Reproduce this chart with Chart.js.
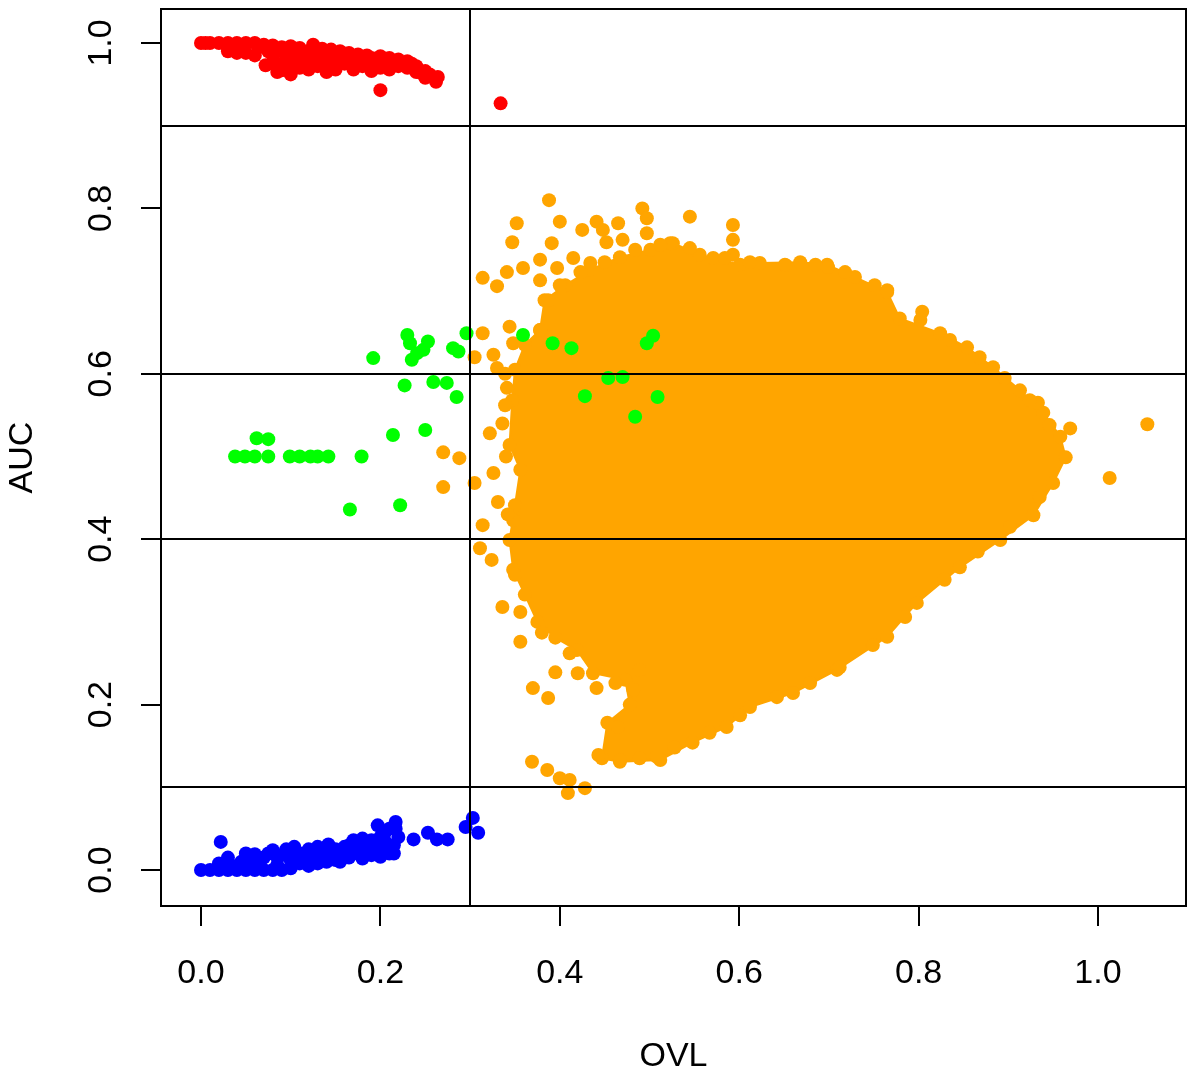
<!DOCTYPE html>
<html>
<head>
<meta charset="utf-8">
<script src="https://cdn.jsdelivr.net/npm/chart.js@4.4.1/dist/chart.umd.min.js"></script>
<style>
  html, body { margin: 0; padding: 0; background: #fff; }
</style>
</head>
<body>
<canvas id="myChart" width="1200" height="1078"></canvas>
<script>
// axis ticks and cut-off lines
const xTicks = [0, 0.2, 0.4, 0.6, 0.8, 1.0];
const yTicks = [0, 0.2, 0.4, 0.6, 0.8, 1.0];
const cutX = [0.3];
const cutY = [0.1, 0.4, 0.6, 0.9];

// AUC close to 1 (red)
const redPts = [
  [0, 1], [0.005, 1], [0.01, 1], [0.02, 1], [0.03, 1], [0.04, 1], [0.05, 1], [0.06, 1],
  [0.07, 0.998], [0.08, 0.997], [0.09, 0.995], [0.1, 0.996], [0.11, 0.994], [0.125, 0.998],
  [0.135, 0.993], [0.145, 0.992], [0.155, 0.99], [0.165, 0.988], [0.175, 0.986], [0.185, 0.985],
  [0.2, 0.984], [0.21, 0.982], [0.22, 0.98], [0.23, 0.978], [0.24, 0.972], [0.25, 0.966],
  [0.03, 0.99], [0.04, 0.988], [0.05, 0.988], [0.06, 0.985], [0.072, 0.973], [0.08, 0.975],
  [0.09, 0.967], [0.1, 0.962], [0.11, 0.97], [0.12, 0.98], [0.13, 0.972], [0.14, 0.965],
  [0.15, 0.968], [0.16, 0.975], [0.17, 0.968], [0.18, 0.972], [0.19, 0.966], [0.2, 0.97],
  [0.21, 0.968], [0.22, 0.972], [0.245, 0.964], [0.262, 0.953], [0.264, 0.959], [0.2, 0.943],
  [0.334, 0.927], [0.085, 0.99], [0.095, 0.985], [0.105, 0.98], [0.115, 0.985], [0.125, 0.985],
  [0.135, 0.98], [0.145, 0.978], [0.155, 0.98], [0.165, 0.978], [0.175, 0.975], [0.185, 0.978],
  [0.195, 0.976], [0.045, 0.993], [0.1, 0.985], [0.11, 0.98], [0.12, 0.99], [0.13, 0.99],
  [0.14, 0.985], [0.15, 0.985], [0.16, 0.985], [0.17, 0.98], [0.18, 0.98], [0.19, 0.982],
  [0.2, 0.978], [0.21, 0.975], [0.22, 0.975], [0.23, 0.97], [0.235, 0.975], [0.09, 0.975],
  [0.08, 0.985], [0.075, 0.99], [0.065, 0.995], [0.1, 0.972], [0.12, 0.968], [0.085, 0.965],
  [0.095, 0.972], [0.14, 0.975], [0.17, 0.972], [0.25, 0.958], [0.255, 0.962], [0.24, 0.965]
];

// AUC close to 0 (blue)
const bluePts = [
  [0, 0], [0.01, 0], [0.02, 0], [0.03, 0], [0.04, 0], [0.05, 0], [0.06, 0], [0.07, 0],
  [0.08, 0], [0.09, 0], [0.1, 0.002], [0.022, 0.034], [0.05, 0.02], [0.06, 0.019], [0.045, 0.01],
  [0.07, 0.015], [0.08, 0.024], [0.09, 0.018], [0.104, 0.028], [0.11, 0.02], [0.12, 0.025],
  [0.125, 0.012], [0.13, 0.028], [0.14, 0.02], [0.142, 0.031], [0.15, 0.012], [0.16, 0.028],
  [0.17, 0.036], [0.175, 0.02], [0.18, 0.014], [0.19, 0.036], [0.195, 0.025], [0.197, 0.054],
  [0.2, 0.016], [0.205, 0.035], [0.21, 0.028], [0.215, 0.02], [0.217, 0.058], [0.217, 0.05],
  [0.22, 0.04], [0.11, 0.008], [0.13, 0.008], [0.155, 0.01], [0.06, 0.008], [0.085, 0.006],
  [0.237, 0.037], [0.253, 0.045], [0.263, 0.037], [0.275, 0.037], [0.303, 0.063],
  [0.295, 0.052], [0.309, 0.045], [0.03, 0.015], [0.12, 0.005], [0.145, 0.018], [0.165, 0.015],
  [0.02, 0.008], [0.035, 0.005], [0.05, 0.012], [0.065, 0.01], [0.075, 0.02], [0.085, 0.015],
  [0.095, 0.025], [0.1, 0.012], [0.115, 0.015], [0.135, 0.018], [0.14, 0.01], [0.15, 0.025],
  [0.16, 0.018], [0.165, 0.03], [0.17, 0.022], [0.185, 0.025], [0.185, 0.03], [0.19, 0.018],
  [0.2, 0.03], [0.21, 0.02], [0.205, 0.045], [0.21, 0.05], [0.2, 0.04], [0.215, 0.03],
  [0.14, 0.028], [0.12, 0.018], [0.1, 0.022], [0.13, 0.02], [0.155, 0.022], [0.175, 0.03],
  [0.18, 0.038]
];

// intermediate group (green)
const greenPts = [
  [0.038, 0.5], [0.049, 0.5], [0.06, 0.5], [0.062, 0.522], [0.075, 0.521], [0.075, 0.5],
  [0.099, 0.5], [0.11, 0.5], [0.122, 0.5], [0.13, 0.5], [0.142, 0.5], [0.179, 0.5],
  [0.166, 0.436], [0.222, 0.441], [0.214, 0.526], [0.25, 0.532], [0.192, 0.619],
  [0.23, 0.647], [0.233, 0.637], [0.253, 0.639], [0.241, 0.625], [0.235, 0.617], [0.248, 0.629],
  [0.281, 0.631], [0.287, 0.627], [0.296, 0.649], [0.227, 0.586], [0.259, 0.59], [0.274, 0.589],
  [0.285, 0.572], [0.359, 0.647], [0.392, 0.637], [0.413, 0.631], [0.497, 0.637], [0.504, 0.646],
  [0.454, 0.595], [0.47, 0.596], [0.428, 0.573], [0.509, 0.572], [0.484, 0.548]
];

// bulk of the markers (orange): outline of the dense cloud ...
const orangeCloud = [
  [0.378, 0.653], [0.383, 0.689], [0.406, 0.707], [0.434, 0.726], [0.467, 0.741], [0.501, 0.75],
  [0.526, 0.758], [0.556, 0.744], [0.571, 0.74], [0.601, 0.732], [0.623, 0.734], [0.668, 0.735],
  [0.698, 0.732], [0.729, 0.717], [0.765, 0.699], [0.779, 0.667], [0.824, 0.649], [0.854, 0.632],
  [0.883, 0.608], [0.913, 0.58], [0.939, 0.553], [0.958, 0.524], [0.964, 0.499], [0.95, 0.468],
  [0.928, 0.429], [0.891, 0.399], [0.846, 0.366], [0.798, 0.323], [0.765, 0.282], [0.709, 0.242],
  [0.66, 0.214], [0.612, 0.197], [0.586, 0.173], [0.548, 0.154], [0.512, 0.133], [0.467, 0.131],
  [0.447, 0.135], [0.453, 0.178], [0.478, 0.2], [0.473, 0.23], [0.437, 0.238], [0.419, 0.266],
  [0.395, 0.281], [0.375, 0.3], [0.361, 0.333], [0.348, 0.363], [0.344, 0.399], [0.35, 0.441],
  [0.356, 0.484], [0.344, 0.514], [0.347, 0.568], [0.35, 0.605], [0.361, 0.635], [0.378, 0.653]
];

// ... and the scattered orange markers around and along it
const orangePts = [
  [0.388, 0.81], [0.352, 0.782], [0.347, 0.759], [0.4, 0.784], [0.391, 0.758], [0.425, 0.774],
  [0.441, 0.784], [0.448, 0.774], [0.465, 0.782], [0.492, 0.8], [0.497, 0.788], [0.497, 0.77],
  [0.452, 0.759], [0.47, 0.762], [0.545, 0.79], [0.593, 0.78], [0.593, 0.762], [0.523, 0.758],
  [0.378, 0.738], [0.397, 0.728], [0.415, 0.74], [0.434, 0.734], [0.359, 0.728], [0.341, 0.723],
  [0.314, 0.716], [0.33, 0.706], [0.378, 0.713], [0.314, 0.649], [0.305, 0.62], [0.326, 0.623],
  [0.33, 0.607], [0.344, 0.657], [0.348, 0.637], [0.341, 0.583], [0.339, 0.562], [0.322, 0.528],
  [0.27, 0.505], [0.288, 0.498], [0.27, 0.463], [0.305, 0.468], [0.331, 0.445], [0.314, 0.417],
  [0.326, 0.48], [0.348, 0.423], [0.311, 0.389], [0.324, 0.375], [0.35, 0.357], [0.336, 0.318],
  [0.356, 0.312], [0.356, 0.276], [0.38, 0.287], [0.395, 0.239], [0.37, 0.22], [0.387, 0.208],
  [0.42, 0.238], [0.411, 0.262], [0.441, 0.22], [0.462, 0.226], [0.482, 0.218], [0.489, 0.242],
  [0.465, 0.173], [0.443, 0.139], [0.467, 0.133], [0.369, 0.131], [0.386, 0.121], [0.4, 0.111],
  [0.411, 0.109], [0.409, 0.093], [0.428, 0.099], [0.508, 0.137], [1.055, 0.539], [0.969, 0.534],
  [1.013, 0.474], [0.933, 0.565], [0.804, 0.675], [0.765, 0.701], [0.593, 0.744], [0.652, 0.731],
  [0.699, 0.729], [0.339, 0.6], [0.336, 0.54], [0.34, 0.5], [0.342, 0.43],
  [0.935, 0.451], [0.902, 0.415], [0.866, 0.385], [0.829, 0.351], [0.785, 0.306], [0.749, 0.272],
  [0.712, 0.245], [0.679, 0.226], [0.642, 0.209], [0.601, 0.187], [0.567, 0.166], [0.528, 0.148],
  [0.489, 0.135], [0.946, 0.538], [0.924, 0.568], [0.896, 0.595], [0.868, 0.62], [0.835, 0.641],
  [0.802, 0.665], [0.751, 0.707], [0.718, 0.723], [0.685, 0.732], [0.651, 0.732], [0.612, 0.735],
  [0.584, 0.74], [0.545, 0.752], [0.512, 0.756], [0.484, 0.75], [0.45, 0.735], [0.423, 0.723],
  [0.4, 0.707], [0.387, 0.689]
];

const toXY = (pts) => pts.map(([x, y]) => ({ x: x, y: y }));

const FONT = '"Liberation Sans", Arial, sans-serif';

const dot = (data, color) => ({
  data: toXY(data),
  backgroundColor: color,
  borderWidth: 0,
  pointRadius: 7,
  pointHoverRadius: 7,
});

// keep the plot box where the reference has it: no extra room for edge labels
const noPad = (s) => {
  s.paddingTop = 0;
  s.paddingBottom = 0;
  s.paddingLeft = 0;
  s.paddingRight = 0;
};

// box round the plot and the cut-off lines, drawn over the markers
const guides = {
  id: 'guides',
  afterDatasetsDraw(chart) {
    const { ctx, chartArea: a, scales: { x, y } } = chart;
    ctx.save();
    ctx.strokeStyle = '#000';
    ctx.lineWidth = 2;
    ctx.beginPath();
    cutY.forEach((v) => {
      const py = Math.round(y.getPixelForValue(v));
      ctx.moveTo(a.left, py);
      ctx.lineTo(a.right, py);
    });
    cutX.forEach((v) => {
      const px = Math.round(x.getPixelForValue(v));
      ctx.moveTo(px, a.top);
      ctx.lineTo(px, a.bottom);
    });
    ctx.stroke();
    ctx.strokeRect(a.left, a.top, a.right - a.left, a.bottom - a.top);
    ctx.restore();
  },
};

new Chart(document.getElementById('myChart'), {
  type: 'scatter',
  data: {
    datasets: [
      dot(greenPts, '#00FF00'),
      dot(redPts, '#FF0000'),
      dot(bluePts, '#0000FF'),
      dot(orangePts, '#FFA500'),
      {
        type: 'line',
        data: toXY(orangeCloud),
        showLine: true,
        fill: 'shape',
        tension: 0,
        backgroundColor: '#FFA500',
        borderColor: '#FFA500',
        borderWidth: 2,
        pointBackgroundColor: '#FFA500',
        pointBorderWidth: 0,
        pointRadius: 7,
      },
    ],
  },
  options: {
    responsive: false,
    animation: false,
    events: [],
    layout: { padding: { top: 9, right: 14, left: 0, bottom: 0 } },
    plugins: {
      legend: { display: false },
      tooltip: { enabled: false },
    },
    scales: {
      x: {
        type: 'linear',
        min: -0.0446,
        max: 1.0981,
        afterBuildTicks: (s) => { s.ticks = xTicks.map((v) => ({ value: v })); },
        afterFit: (s) => { s.height = 172; noPad(s); },
        border: { display: false },
        grid: { drawOnChartArea: false, drawTicks: true, tickLength: 20, color: '#000', lineWidth: 2 },
        ticks: {
          padding: 27,
          color: '#000',
          font: { family: FONT, size: 34 },
          callback: (v) => Number(v).toFixed(1),
        },
        title: {
          display: true,
          text: 'OVL',
          color: '#000',
          font: { family: FONT, size: 34 },
          padding: { top: 0, bottom: 1 },
        },
      },
      y: {
        type: 'linear',
        min: -0.0435,
        max: 1.0411,
        afterBuildTicks: (s) => { s.ticks = yTicks.map((v) => ({ value: v })); },
        afterFit: (s) => { s.width = 161; noPad(s); },
        border: { display: false },
        grid: { drawOnChartArea: false, drawTicks: true, tickLength: 20, color: '#000', lineWidth: 2 },
        ticks: {
          padding: 16,
          minRotation: 90,
          maxRotation: 90,
          crossAlign: 'center',
          color: '#000',
          font: { family: FONT, size: 34 },
          callback: (v) => Number(v).toFixed(1),
        },
        title: {
          display: true,
          text: 'AUC',
          color: '#000',
          font: { family: FONT, size: 34 },
          padding: { top: 2, bottom: 0 },
        },
      },
    },
  },
  plugins: [guides],
});
</script>
</body>
</html>
